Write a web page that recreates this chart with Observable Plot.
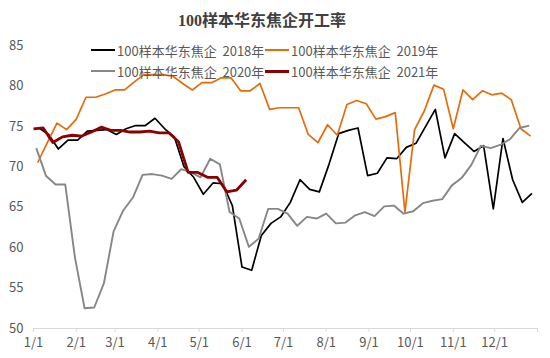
<!DOCTYPE html>
<html>
<head>
<meta charset="utf-8">
<script src="https://cdn.jsdelivr.net/npm/d3@7"></script>
<script src="https://cdn.jsdelivr.net/npm/@observablehq/plot@0.6"></script>
<style>
  body { margin: 0; background: #fff; }
  #wrap { position: relative; width: 550px; height: 358px; font-family: "Noto Sans CJK SC", "Noto Sans", sans-serif; }
  #title { height: 30px; line-height: 42px; text-align: center; padding-right: 26px; box-sizing: border-box;
           font-family: "Liberation Serif", "Noto Sans CJK SC", serif; font-weight: bold; font-size: 16px; color: #404040; }
  .leg { position: absolute; display: flex; align-items: center; font-size: 13px; color: #595959; white-space: pre; }
  .leg span.sw { display: inline-block; width: 24px; margin-right: 2px; }
</style>
</head>
<body>
<div id="wrap">
  <div id="title"></div>
  <div id="chart"></div>
</div>
<script>
const titleText = "100样本华东焦企开工率";
const seriesNames = ["100样本华东焦企  2018年", "100样本华东焦企  2019年", "100样本华东焦企  2020年", "100样本华东焦企  2021年"];
const seriesColors = ["#000000", "#E46C0A", "#878787", "#8B0000"];
const seriesWidths = [1.7, 1.7, 1.9, 2.8];
const startDates = ["2018-01-05", "2019-01-04", "2020-01-03", "2021-01-01"];

const values2018 = [74.8, 74.0, 72.2, 73.3, 73.3, 74.4, 74.5, 74.6, 74.0, 74.7,
  75.1, 75.1, 76.0, 74.7, 73.7, 70.0, 68.7, 66.6, 68.0, 67.9,
  65.2, 57.6, 57.2, 61.5, 63.0, 63.8, 65.6, 68.4, 67.2, 66.9,
  70.3, 74.1, 74.5, 74.8, 68.9, 69.2, 71.1, 71.0, 72.4, 72.9,
  75.0, 77.1, 71.1, 74.1, 73.0, 71.9, 72.6, 64.8, 73.5, 68.4,
  65.6, 66.7];
const values2019 = [70.5, 73.0, 75.4, 74.6, 75.9, 78.6, 78.6, 79.0, 79.5, 79.5,
  80.5, 81.4, 81.4, 81.4, 81.2, 80.3, 79.5, 80.4, 80.4, 81.0,
  81.0, 79.4, 79.4, 80.3, 77.1, 77.3, 77.3, 77.3, 74.0, 73.0,
  75.2, 73.9, 77.7, 78.2, 77.8, 75.9, 76.2, 76.7, 64.4, 74.6,
  76.9, 80.1, 79.6, 74.7, 79.5, 78.3, 79.4, 78.9, 79.1, 78.3,
  74.7, 73.8];
const values2020 = [72.3, 68.9, 67.8, 67.8, 58.8, 52.5, 52.6, 55.6, 62.0, 64.6,
  66.2, 69.0, 69.1, 68.9, 68.5, 69.7, 69.3, 68.7, 71.0, 70.3,
  64.4, 63.6, 60.1, 61.1, 64.8, 64.8, 64.2, 62.7, 63.8, 63.6,
  64.2, 63.0, 63.1, 64.0, 64.4, 63.9, 65.1, 65.2, 64.2, 64.5,
  65.5, 65.8, 66.0, 67.7, 68.6, 70.2, 72.6, 72.3, 72.7, 73.4,
  74.8, 75.1];
const values2021 = [74.7, 74.8, 73.0, 73.7, 73.9, 73.8, 74.3, 74.9, 74.5, 74.5,
  74.3, 74.3, 74.4, 74.2, 74.2, 73.1, 69.3, 69.3, 68.7, 68.7,
  66.9, 67.1, 68.4];
const yTicks = [50, 55, 60, 65, 70, 75, 80, 85];
const monthTicks = ["2021-01-01", "2021-02-01", "2021-03-01", "2021-04-01", "2021-05-01", "2021-06-01",
  "2021-07-01", "2021-08-01", "2021-09-01", "2021-10-01", "2021-11-01", "2021-12-01", "2022-01-01"];

const allValues = [values2018, values2019, values2020, values2021];

// Map each weekly observation onto a common calendar year (2021) by day of year
const rows = [];
allValues.forEach((vals, s) => {
  const start = new Date(startDates[s] + "T00:00:00Z");
  const doy = d3.utcDay.count(d3.utcYear.floor(start), start);
  vals.forEach((v, i) => {
    rows.push({series: seriesNames[s], date: new Date(Date.UTC(2021, 0, 1 + doy + 7 * i)), value: v});
  });
});

const tickDates = monthTicks.map(d => new Date(d + "T00:00:00Z"));
const fmt = d3.utcFormat("%-m/%-d");

const marks = [
  Plot.ruleY([50], {stroke: "#d9d9d9", strokeWidth: 1.2}),
  Plot.axisX({ticks: tickDates, tickSize: 4, tickPadding: 5, stroke: "#d9d9d9",
    tickFormat: d => d.getUTCFullYear() === 2022 ? "" : fmt(d), fontSize: 13, fill: "#595959"}),
  Plot.axisY({ticks: yTicks, tickSize: 0, tickPadding: 10, fontSize: 13, fill: "#595959"})
];
seriesNames.forEach((name, s) => {
  marks.push(Plot.line(rows.filter(r => r.series === name), {
    x: "date", y: "value", stroke: seriesColors[s], strokeWidth: seriesWidths[s],
    strokeLinejoin: "round", strokeLinecap: "butt"
  }));
});

const chart = Plot.plot({
  width: 550,
  height: 328,
  marginLeft: 33,
  marginRight: 13,
  marginTop: 15,
  marginBottom: 30,
  style: {fontFamily: '"Noto Sans CJK SC", "Noto Sans", sans-serif', fontSize: "13px", color: "#595959", background: "#fff"},
  x: {type: "utc", domain: [tickDates[0], tickDates[tickDates.length - 1]], label: null},
  y: {domain: [50, 85], label: null},
  marks
});
document.getElementById("chart").appendChild(chart);
document.getElementById("title").textContent = titleText;

// Legend overlay (two rows, two columns) over the plot area
const legPos = [[91, 50], [265, 50], [91, 71], [265, 71]];
const wrap = document.getElementById("wrap");
seriesNames.forEach((name, s) => {
  const el = document.createElement("div");
  el.className = "leg";
  el.style.left = legPos[s][0] + "px";
  el.style.top = (legPos[s][1] - 10) + "px";
  el.style.height = "20px";
  const sw = document.createElement("span");
  sw.className = "sw";
  sw.style.borderTop = (s === 3 ? 3 : 2) + "px solid " + seriesColors[s];
  const tx = document.createElement("span");
  tx.textContent = name;
  el.appendChild(sw);
  el.appendChild(tx);
  wrap.appendChild(el);
});
</script>
</body>
</html>
